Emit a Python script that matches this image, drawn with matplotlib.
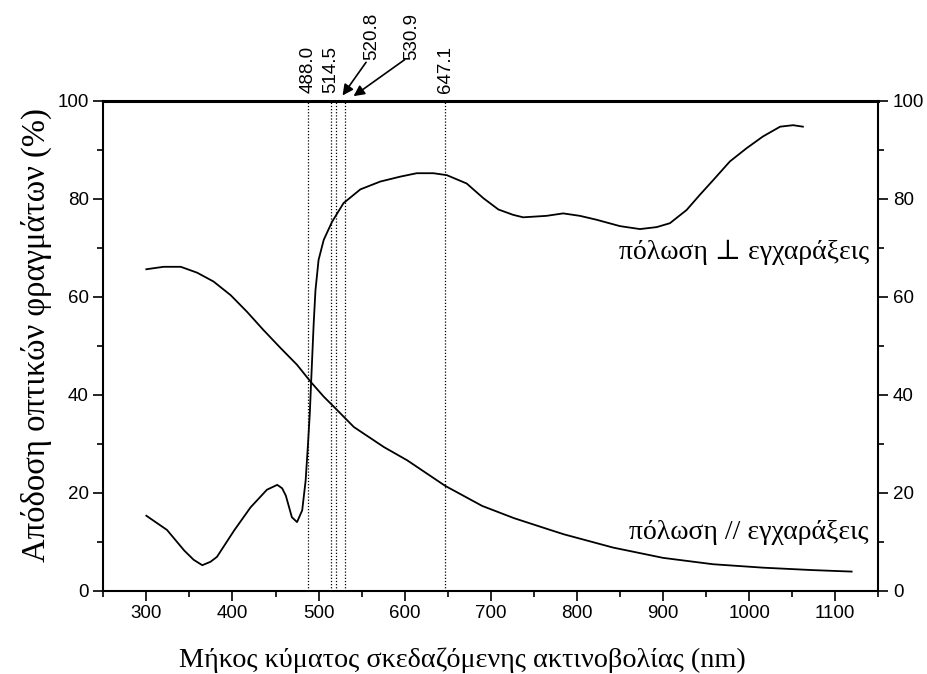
# ── 1. Packages ───────────────────────────────────────────────────────────────
import matplotlib
matplotlib.use("Agg")
import matplotlib.pyplot as plt
from matplotlib.ticker import MultipleLocator

# ── 2. Data ───────────────────────────────────────────────────────────────────
# grating efficiency, polarisation perpendicular to grooves
perp_nm  = [300, 324, 344, 355, 365, 374.5, 382, 402, 421, 440, 452, 457.7,
            462, 469, 475, 481, 485, 487.5, 489.8, 491.4, 494.3, 496.4, 500,
            506, 515.7, 529, 548.5, 571.7, 594.8, 614, 633.4, 649, 672,
            691.4, 708.8, 726, 737.6, 764.7, 784, 803.5, 822.9, 850, 873.2,
            892.6, 908, 927.4, 942.8, 958.3, 977.6, 997, 1016, 1036, 1051,
            1062.4]
perp_eff = [15.3, 12.4, 8.2, 6.3, 5.2, 5.9, 6.9, 12.3, 17.0, 20.6, 21.6, 20.9,
            19.4, 15.0, 14.0, 16.4, 22.5, 29.3, 36.1, 42.7, 54.4, 61.3, 67.5,
            71.6, 75.3, 79.1, 81.9, 83.5, 84.5, 85.2, 85.2, 84.8, 83.1, 80.1,
            77.8, 76.7, 76.2, 76.5, 77.0, 76.5, 75.7, 74.4, 73.8, 74.2, 75.0,
            77.7, 80.8, 83.8, 87.6, 90.3, 92.7, 94.7, 95.0, 94.7]

# grating efficiency, polarisation parallel to grooves
par_nm  = [300, 320, 340, 359, 378, 398, 417, 436, 456, 475, 490.5, 506, 518,
           541, 576, 603, 647, 690, 727, 769, 785, 842, 900, 958, 1016, 1074,
           1119]
par_eff = [65.6, 66.1, 66.1, 64.9, 63.1, 60.3, 56.9, 53.2, 49.5, 46.1, 42.7,
           39.6, 37.5, 33.4, 29.3, 26.6, 21.4, 17.3, 14.8, 12.4, 11.5, 8.8,
           6.7, 5.4, 4.7, 4.2, 3.9]

# laser lines (nm)
laser_lines  = [488.0, 514.5, 520.8, 530.9, 647.1]
laser_labels = ["488.0", "514.5", "520.8", "530.9", "647.1"]

x_ticks = list(range(300, 1101, 100))
y_ticks = list(range(0, 101, 20))

serif = ["Liberation Serif", "DejaVu Serif"]
sans  = ["Liberation Sans", "DejaVu Sans"]

# ── 3. Figure ─────────────────────────────────────────────────────────────────
fig = plt.figure(figsize=(9.27, 6.74), dpi=100)
ax = fig.add_axes([0.1114, 0.1236, 0.8361, 0.727])

ax.plot(perp_nm, perp_eff, color="black", lw=1.3)
ax.plot(par_nm, par_eff, color="black", lw=1.3)

for wl in laser_lines:
    ax.axvline(wl, color="black", lw=0.9, ls=(0, (1, 1.5)))

ax.set_xlim(250, 1150)
ax.set_ylim(0, 100)
ax.set_xticks(x_ticks)
ax.set_yticks(y_ticks)
ax.xaxis.set_minor_locator(MultipleLocator(50))
ax.yaxis.set_minor_locator(MultipleLocator(10))
ax.tick_params(which="both", direction="out", top=False, right=True,
               labelright=True, width=1.2)
ax.tick_params(which="major", length=7)
ax.tick_params(which="minor", length=4)
for t in ax.xaxis.get_major_ticks() + ax.yaxis.get_major_ticks():
    for lab in (t.label1, t.label2):
        lab.set_family(sans)
        lab.set_fontsize(13.5)

for side in ["left", "right", "bottom"]:
    ax.spines[side].set_linewidth(1.5)
ax.spines["top"].set_linewidth(2.2)

ax.set_xlabel("Μήκος κύματος σκεδαζόμενης ακτινοβολίας (nm)",
              family=serif, fontsize=20.3)
ax.xaxis.set_label_coords(0.4635, -0.115)
ax.set_ylabel("Απόδοση οπτικών φραγμάτων (%)",
              family=serif, fontsize=23.5)
ax.yaxis.set_label_coords(-0.066, 0.522)

# ── 4. Laser-line labels above the frame ──────────────────────────────────────
for wl, lab in zip(laser_lines, laser_labels):
    if lab in ("520.8", "530.9"):
        continue
    ax.text(wl, 101.6, lab, rotation=90, ha="center", va="bottom",
            family=sans, fontsize=13.5, clip_on=False)

ax.text(562, 108.3, "520.8", rotation=90, ha="center", va="bottom",
        family=sans, fontsize=13.5, clip_on=False)
ax.text(608.4, 108.3, "530.9", rotation=90, ha="center", va="bottom",
        family=sans, fontsize=13.5, clip_on=False)
arrow = dict(arrowstyle="-|>", color="black", lw=1.2, mutation_scale=16)
ax.annotate("", xy=(526, 100.6), xytext=(557, 108.3),
            arrowprops=arrow, annotation_clip=False)
ax.annotate("", xy=(538, 100.6), xytext=(602.6, 108.7),
            arrowprops=arrow, annotation_clip=False)

# ── 5. Curve labels ───────────────────────────────────────────────────────────
ax.text(1139, 69, "πόλωση ⊥ εγχαράξεις", ha="right", va="center",
        family=serif, fontsize=20)
ax.text(1139, 11.8, "πόλωση // εγχαράξεις", ha="right", va="center",
        family=serif, fontsize=20)

fig.savefig("out.png", dpi=100)
